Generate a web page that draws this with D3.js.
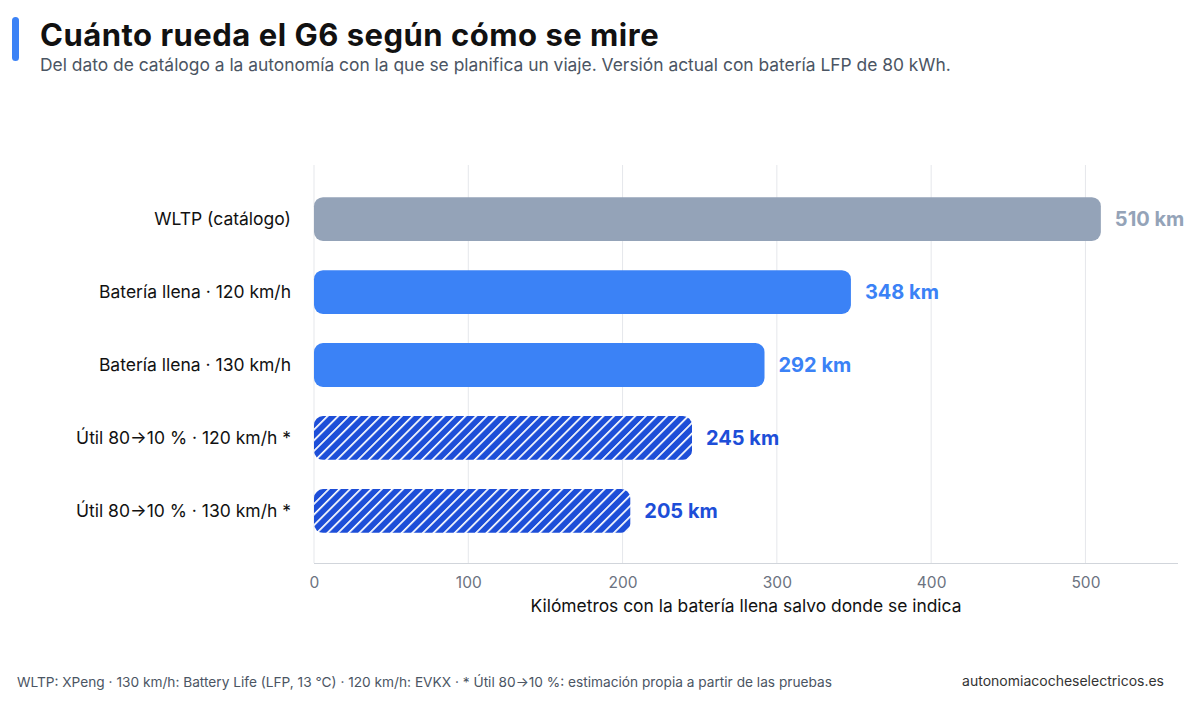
<!DOCTYPE html>
<html><head><meta charset="utf-8">
<script src="https://cdn.jsdelivr.net/npm/d3@7"></script>
<style>body{margin:0;background:#fff;font-family:Inter,"Noto Sans",sans-serif;}</style>
</head><body><svg id="c" width="1200" height="707"></svg>
<script>
const categories = ["WLTP (catálogo)","Batería llena · 120 km/h","Batería llena · 130 km/h","Útil 80→10 % · 120 km/h *","Útil 80→10 % · 130 km/h *"];
const values = [510, 348, 292, 245, 205];
const kinds = ["catalog","full","full","useful","useful"];
const xTicks = [0,100,200,300,400,500];

const svg = d3.select("#c");
const fill = {catalog:"#94a3b8", full:"#3b82f6", useful:"url(#hatch)"};
const labelColor = {catalog:"#94a3b8", full:"#3b82f6", useful:"#1d4ed8"};

const defs = svg.append("defs");
const pat = defs.append("pattern").attr("id","hatch").attr("patternUnits","userSpaceOnUse")
  .attr("width",7.5).attr("height",7.5).attr("patternTransform","rotate(45)");
pat.append("rect").attr("width",7.5).attr("height",7.5).attr("fill","#1d4ed8");
pat.append("rect").attr("x",0).attr("width",1.7).attr("height",7.5).attr("fill","#fff");

// header
svg.append("rect").attr("x",12).attr("y",17).attr("width",7).attr("height",44).attr("rx",3.5).attr("fill","#3b82f6");
svg.append("text").attr("x",40).attr("y",46).text("Cuánto rueda el G6 según cómo se mire")
  .attr("font-size",31).attr("letter-spacing",0.5).attr("font-weight",700).attr("fill","#111");
svg.append("text").attr("x",40).attr("y",71).text("Del dato de catálogo a la autonomía con la que se planifica un viaje. Versión actual con batería LFP de 80 kWh.")
  .attr("font-size",17.4).attr("fill","#4b5563");

const x = d3.scaleLinear().domain([0,560]).range([314,1178]);
const y = d3.scaleBand().domain(categories).range([168,562]).paddingInner(0.4).paddingOuter(0.4);

const g = svg.append("g");
g.selectAll("line.grid").data(xTicks).join("line").attr("class","grid")
  .attr("x1",d=>x(d)).attr("x2",d=>x(d)).attr("y1",165).attr("y2",563)
  .attr("stroke","#e5e7eb").attr("stroke-width",1);
g.append("line").attr("x1",314).attr("x2",1178).attr("y1",563.5).attr("y2",563.5).attr("stroke","#d1d5db");

const axis = d3.axisBottom(x).tickValues(xTicks).tickSize(0).tickPadding(14);
const ax = g.append("g").attr("transform","translate(0,563)").call(axis);
ax.select(".domain").remove();
ax.selectAll("text").attr("font-size",15.5).attr("fill","#6b7280").attr("font-family","Inter,'Noto Sans',sans-serif");

g.append("text").attr("x",746).attr("y",612).attr("text-anchor","middle")
  .attr("font-size",17.4).attr("fill","#111").text("Kilómetros con la batería llena salvo donde se indica");

g.selectAll("rect.bar").data(categories).join("rect").attr("class","bar")
  .attr("x",x(0)).attr("y",d=>y(d)).attr("height",y.bandwidth())
  .attr("width",(d,i)=>x(values[i])-x(0)).attr("rx",9)
  .attr("fill",(d,i)=>fill[kinds[i]]);

g.selectAll("text.cat").data(categories).join("text").attr("class","cat")
  .attr("x",291).attr("y",d=>y(d)+y.bandwidth()/2).attr("dy","0.35em")
  .attr("text-anchor","end").attr("font-size",17.5).attr("fill","#111").text(d=>d);

g.selectAll("text.val").data(categories).join("text").attr("class","val")
  .attr("x",(d,i)=>x(values[i])+14).attr("y",d=>y(d)+y.bandwidth()/2).attr("dy","0.35em")
  .attr("font-size",20).attr("font-weight",700).attr("fill",(d,i)=>labelColor[kinds[i]])
  .text((d,i)=>values[i]+" km");

svg.append("text").attr("x",17).attr("y",687).attr("font-size",13.7).attr("fill","#4b5563")
  .text("WLTP: XPeng · 130 km/h: Battery Life (LFP, 13 °C) · 120 km/h: EVKX · * Útil 80→10 %: estimación propia a partir de las pruebas");
svg.append("text").attr("x",1164).attr("y",686).attr("text-anchor","end").attr("font-size",14).attr("fill","#333")
  .text("autonomiacocheselectricos.es");
</script></body></html>
